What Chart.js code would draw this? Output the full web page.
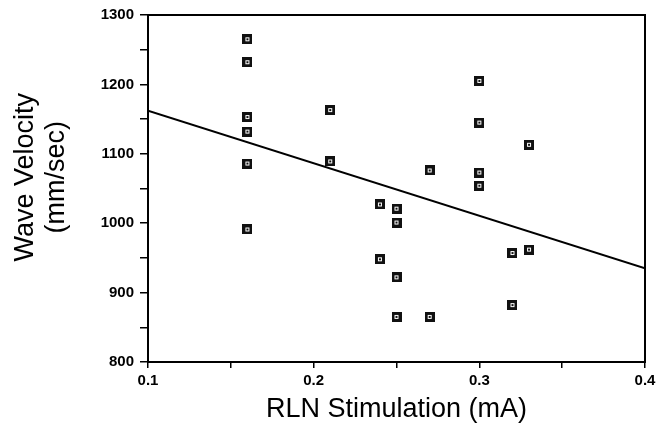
<!DOCTYPE html>
<html>
<head>
<meta charset="utf-8">
<script src="https://cdn.jsdelivr.net/npm/chart.js@4.4.1/dist/chart.umd.min.js"></script>
<style>
  html, body { margin: 0; padding: 0; background: #fff; }
  canvas { display: block; }
</style>
</head>
<body>
<canvas id="chart" width="670" height="440"></canvas>
<script>
// RLN stimulation (mA) vs wave velocity (mm/sec)
const stimulation = [0.16, 0.16, 0.16, 0.16, 0.16, 0.16, 0.21, 0.21, 0.24, 0.24, 0.25, 0.25, 0.25, 0.25,
  0.27, 0.27, 0.30, 0.30, 0.30, 0.30, 0.33, 0.32, 0.33, 0.32];
const velocity = [1265, 1232, 1153, 1132, 1086, 991, 1163, 1089, 1027, 948, 1021, 1001, 922, 865,
  865, 1076, 1205, 1145, 1073, 1054, 1113, 957, 962, 882];

// regression line end points
const fitX = [0.1, 0.4];
const fitY = [1162, 935];

const xTicks = [0.1, 0.2, 0.3, 0.4];
const yTicks = [800, 900, 1000, 1100, 1200, 1300];

// small black square marker with a white centre
const marker = document.createElement("canvas");
marker.width = 10;
marker.height = 10;
const mctx = marker.getContext("2d");
mctx.fillStyle = "#111";
mctx.fillRect(0, 0, 10, 10);
mctx.fillStyle = "#fff";
mctx.fillRect(3, 3, 4, 4);
mctx.fillStyle = "#111";
mctx.fillRect(4, 4, 2, 2);

const framePlugin = {
  id: "frame",
  afterDraw(chart) {
    const { ctx, chartArea: a } = chart;
    ctx.save();
    ctx.strokeStyle = "#000";
    ctx.lineWidth = 2;
    ctx.strokeRect(a.left, a.top, a.right - a.left, a.bottom - a.top);
    ctx.restore();
  }
};

const whiteBg = {
  id: "whiteBg",
  beforeDraw(chart) {
    const ctx = chart.ctx;
    ctx.save();
    ctx.fillStyle = "#fff";
    ctx.fillRect(0, 0, chart.width, chart.height);
    ctx.restore();
  }
};

const tickFont = { family: "'Liberation Sans', Arial, sans-serif", size: 15, weight: "bold" };
const titleFont = { family: "'Liberation Sans', Arial, sans-serif", size: 27 };

new Chart(document.getElementById("chart"), {
  type: "scatter",
  data: {
    datasets: [
      {
        label: "data",
        data: stimulation.map((x, i) => ({ x, y: velocity[i] })),
        pointStyle: marker,
        pointRadius: 5,
        pointHoverRadius: 5
      },
      {
        type: "line",
        label: "fit",
        data: fitX.map((x, i) => ({ x, y: fitY[i] })),
        borderColor: "#000",
        borderWidth: 2,
        pointRadius: 0,
        fill: false
      }
    ]
  },
  options: {
    responsive: false,
    animation: false,
    layout: { padding: { top: 14, right: 25, left: 0, bottom: 0 } },
    plugins: { legend: { display: false }, tooltip: { enabled: false } },
    scales: {
      x: {
        type: "linear",
        min: 0.1,
        max: 0.4,
        afterFit: (s) => { s.height = 78; },
        border: { color: "#000", width: 2 },
        grid: { drawOnChartArea: false, drawTicks: true, tickLength: 6, tickColor: "#000", lineWidth: 1.5 },
        ticks: {
          stepSize: 0.05,
          color: "#000",
          font: tickFont,
          padding: 4,
          maxRotation: 0,
          callback: (v) => {
            const hit = xTicks.find((t) => Math.abs(t - v) < 1e-6);
            return hit !== undefined ? hit.toFixed(1) : "";
          }
        },
        title: {
          display: true,
          text: "RLN Stimulation (mA)",
          color: "#000",
          font: titleFont,
          padding: { top: 0, bottom: 14 }
        }
      },
      y: {
        min: 800,
        max: 1300,
        afterFit: (s) => { s.width = 148; },
        border: { color: "#000", width: 2 },
        grid: { drawOnChartArea: false, drawTicks: true, tickLength: 8, tickColor: "#000", lineWidth: 1.5 },
        ticks: {
          stepSize: 50,
          color: "#000",
          font: tickFont,
          padding: 6,
          callback: (v) => (yTicks.includes(v) ? String(v) : "")
        },
        title: {
          display: true,
          text: ["   Wave Velocity", "   (mm/sec)"],
          color: "#000",
          font: { family: titleFont.family, size: 27, lineHeight: 1.15 },
          padding: { top: 10, bottom: 0 }
        }
      }
    }
  },
  plugins: [whiteBg, framePlugin]
});
</script>
</body>
</html>
